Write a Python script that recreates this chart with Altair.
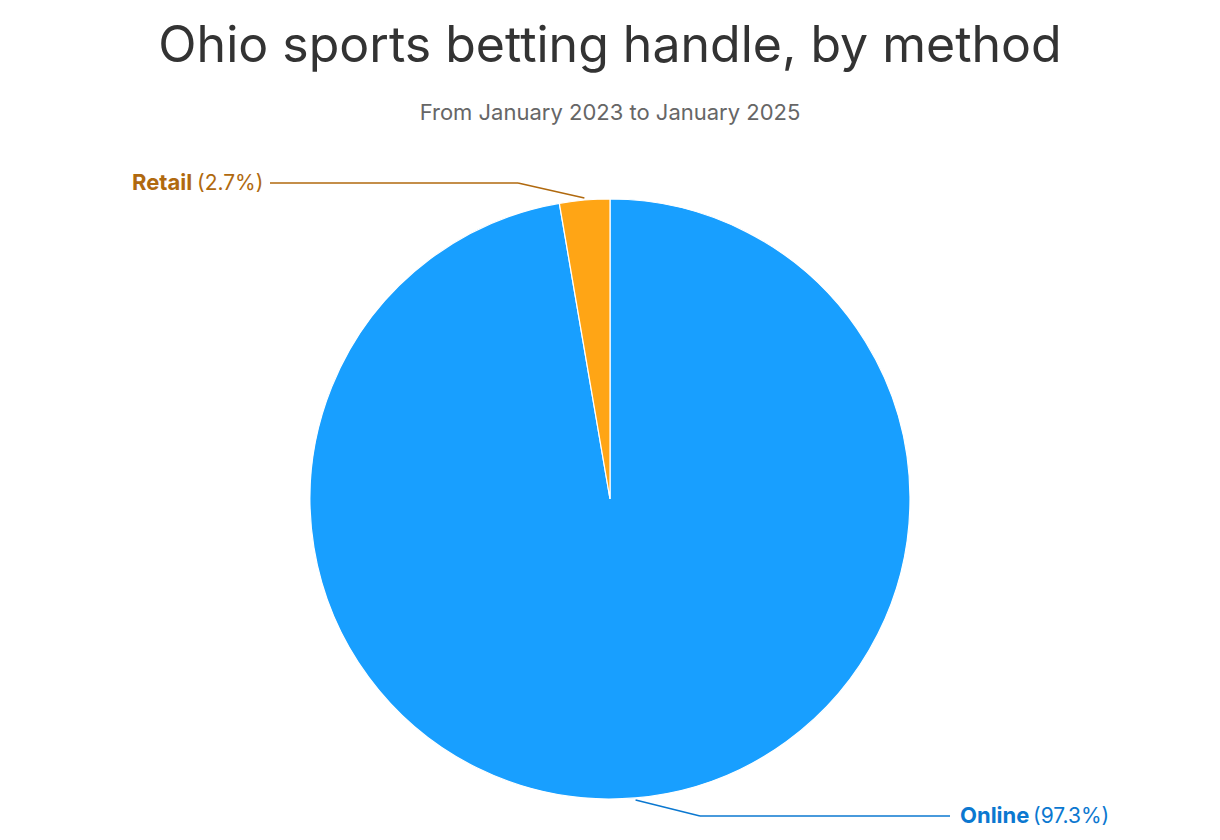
import math
import altair as alt
import pandas as pd

# ---- data ----
categories = ["Online", "Retail"]
shares = [97.3, 2.7]
slice_colors = ["#189FFF", "#FFA515"]
label_colors = ["#0B78D0", "#B0690E"]
title_text = "Ohio sports betting handle, by method"
subtitle_text = "From January 2023 to January 2025"

W, H = 1204, 824
CX, CY, R = 602, 491, 300
FONT = "Inter"

df = pd.DataFrame({"method": categories, "share": shares, "order": [0, 1]})

pie = alt.Chart(df).mark_arc(radius=R, stroke="white", strokeWidth=1.2).encode(
    theta=alt.Theta("share:Q", stack=True),
    color=alt.Color("method:N", scale=alt.Scale(domain=categories, range=slice_colors), legend=None),
    order=alt.Order("order:Q"),
    x=alt.value(CX),
    y=alt.value(CY),
)

one = pd.DataFrame({"t": [title_text], "s": [subtitle_text]})
title = alt.Chart(one).mark_text(font=FONT, fontSize=50, color="#333333", align="center", baseline="alphabetic").encode(
    x=alt.value(602), y=alt.value(54), text="t:N")
subtitle = alt.Chart(one).mark_text(font=FONT, fontSize=22, color="#666666", align="center", baseline="alphabetic").encode(
    x=alt.value(602), y=alt.value(112), text="s:N")

# leader line start points from the slice mid-angles
total = sum(shares)
cum = 0
mids = []
for s in shares:
    mids.append((cum + s / 2) / total * 2 * math.pi)
    cum += s

layers = [pie, title, subtitle]

# label layout (annotation positions)
label_specs = {
    "Online": dict(elbow=(692, 808), end=(942, 808), tx=952, ty=815, pct_off=73),
    "Retail": dict(elbow=(510, 175), end=(262, 175), tx=124, ty=182, pct_off=65),
}

for i, cat in enumerate(categories):
    a = mids[i]
    sx = CX + (R + 2) * math.sin(a)
    sy = CY - (R + 2) * math.cos(a)
    spec = label_specs[cat]
    ex, ey = spec["elbow"]
    fx, fy = spec["end"]
    ldf = pd.DataFrame({"k": [0]})
    c = label_colors[i]
    seg1 = alt.Chart(ldf).mark_rule(color=c, strokeWidth=1.5).encode(
        x=alt.value(sx), y=alt.value(sy), x2=alt.value(ex), y2=alt.value(ey))
    seg2 = alt.Chart(ldf).mark_rule(color=c, strokeWidth=1.5).encode(
        x=alt.value(ex), y=alt.value(ey), x2=alt.value(fx), y2=alt.value(fy))
    tdf = pd.DataFrame({"name": [cat], "pct": [f"({shares[i]}%)"]})
    name_t = alt.Chart(tdf).mark_text(font=FONT, fontSize=22, fontWeight="bold", color=c, align="left",
                                      baseline="alphabetic").encode(
        x=alt.value(spec["tx"]), y=alt.value(spec["ty"]), text="name:N")
    pct_t = alt.Chart(tdf).mark_text(font=FONT, fontSize=21, color=c, align="left",
                                     baseline="alphabetic").encode(
        x=alt.value(spec["tx"] + spec["pct_off"]), y=alt.value(spec["ty"]), text="pct:N")
    layers += [seg1, seg2, name_t, pct_t]

chart = alt.layer(*layers).properties(
    width=W, height=H, autosize=alt.AutoSizeParams(type="none"), padding=0
).configure_view(stroke=None)

chart.save("out.html", embed_options={"renderer": "svg", "actions": False})
